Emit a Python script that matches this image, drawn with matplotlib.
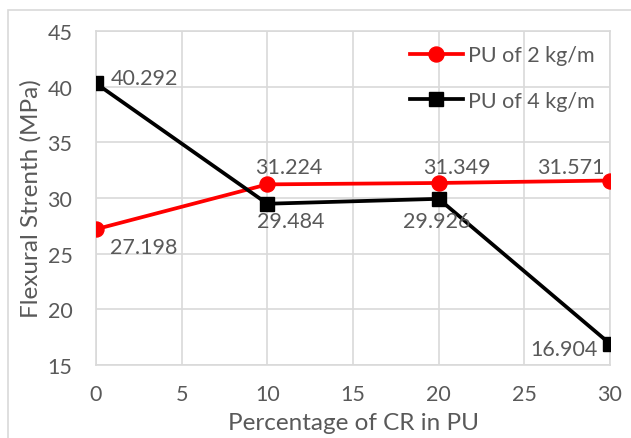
import matplotlib
matplotlib.use("Agg")
import matplotlib.pyplot as plt
from matplotlib.patches import Rectangle

# Data
cr_percent = [0, 10, 20, 30]
pu_2kg = [27.198, 31.224, 31.349, 31.571]
pu_4kg = [40.292, 29.484, 29.926, 16.904]
series_names = ["PU of 2 kg/m", "PU of 4 kg/m"]
x_ticks = [0, 5, 10, 15, 20, 25, 30]
y_ticks = [15, 20, 25, 30, 35, 40, 45]

plt.rcParams["font.family"] = ["Lato", "DejaVu Sans"]
TXT = "#595959"
GRID = "#d9d9d9"
FS = 15.5

W, H = 631, 439
fig = plt.figure(figsize=(W / 100, H / 100), dpi=100)
ax = fig.add_axes([96 / W, 1 - 366 / H, (610 - 96) / W, (366 - 32) / H])

# chart area outline
fig.patches.append(Rectangle((8 / W, -0.2), 1.2, 1 - 11 / H + 0.2,
                             transform=fig.transFigure, fill=False,
                             ec=GRID, lw=1.2))

ax.plot(cr_percent, pu_2kg, color="#ff0000", lw=2.7, marker="o",
        markersize=10.8, label=series_names[0], zorder=3)
ax.plot(cr_percent, pu_4kg, color="#000000", lw=2.7, marker="s",
        markersize=10.5, label=series_names[1], zorder=4)

ax.set_xlim(0, 30)
ax.set_ylim(15, 45)
ax.set_xticks(x_ticks)
ax.set_yticks(y_ticks)
ax.grid(True, color=GRID, lw=1.2)
ax.set_axisbelow(True)
for s in ax.spines.values():
    s.set_color(GRID)
    s.set_linewidth(1.2)
ax.tick_params(length=0, labelsize=FS, labelcolor=TXT)
ax.tick_params(axis="y", pad=17)
ax.tick_params(axis="x", pad=14)

ax.set_xlabel("Percentage of CR in PU", fontsize=17.5, color=TXT)
ax.xaxis.set_label_coords(0.5, -(434 - 366) / (366 - 32))
ax.xaxis.label.set_va("bottom")
ax.set_ylabel("Flexural Strenth (MPa)", fontsize=17.5, color=TXT)
ax.yaxis.set_label_coords(-(96 - 42) / (610 - 96), 0.5)

# value labels: (dx, dy) in pixels, horizontal alignment
offs_2 = [((14, -18), "left"), ((21, 17), "center"),
          ((18, 16), "center"), ((-5, 14), "right")]
offs_4 = [((15, 5), "left"), ((23, -17), "center"),
          ((-2, -22), "center"), ((-12, -5), "right")]
for xs, ys, offs in ((cr_percent, pu_2kg, offs_2), (cr_percent, pu_4kg, offs_4)):
    for x, y, (d, ha) in zip(xs, ys, offs):
        ax.annotate(f"{y:.3f}", (x, y), xytext=d, textcoords="offset pixels",
                    ha=ha, va="center", fontsize=FS, color=TXT, zorder=5)

leg = ax.legend(loc="center left", bbox_to_anchor=(410 / W, 1 - 79 / H),
                bbox_transform=fig.transFigure, frameon=False,
                fontsize=FS, handlelength=2.45, handletextpad=0.25,
                labelspacing=1.2, borderpad=0, borderaxespad=0)
for t in leg.get_texts():
    t.set_color(TXT)

fig.savefig("out.png", dpi=100)
